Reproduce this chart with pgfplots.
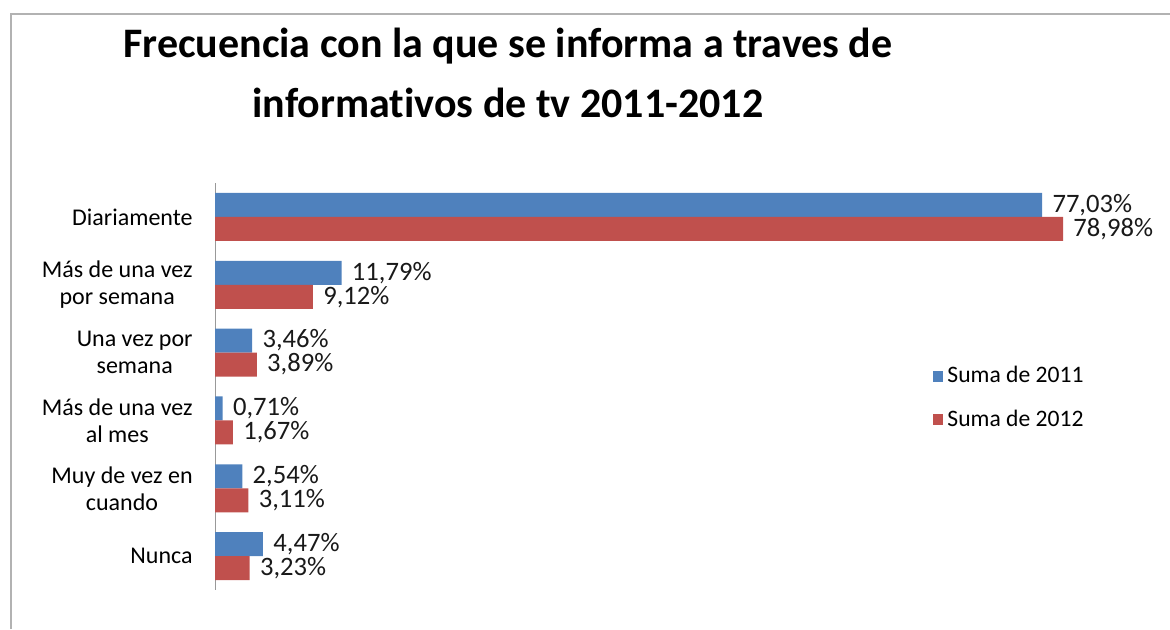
\documentclass[border=0pt]{standalone}
\usepackage{pgfplots}
\pgfplotsset{compat=1.18}
\usepackage{fontspec}
\setmainfont{Carlito}[Ligatures=NoCommon]
\definecolor{b2011}{RGB}{79,129,189}
\definecolor{r2012}{RGB}{192,80,77}
\begin{document}
\begin{tikzpicture}
\path[use as bounding box] (0,0) rectangle (585pt,314.5pt);
\draw[black!30, line width=1pt] (5.5pt,0) -- (5.5pt,307.5pt) -- (585pt,307.5pt);
\node[anchor=base, inner sep=0pt, font=\fontsize{21}{25}\selectfont\bfseries] at (254pt,286pt) {Frecuencia con la que se informa a traves de};
\node[anchor=base, inner sep=0pt, font=\fontsize{21}{25}\selectfont\bfseries] at (254pt,256pt) {informat\kern0pt ivos de tv 2011-2012};
\begin{axis}[
  at={(107.5pt,19.5pt)}, anchor=south west,
  scale only axis, width=429.5pt, height=203.5pt,
  xbar, bar width=12pt,
  xmin=0, xmax=80, ymin=-0.5, ymax=5.5, y dir=reverse,
  hide x axis, axis y line*=left,
  axis line style={black!40},
  major tick length=0pt,
  ytick={0,1,2,3,4,5},
  yticklabels={Diariamente,{Más de una vez\\por semana},{Una vez por\\semana},{Más de una vez\\al mes},{Muy de vez en\\cuando},Nunca},
  yticklabel style={align=center, font=\fontsize{12}{13.5}\selectfont, inner sep=0pt, xshift=-11pt},
  point meta=x,
  /pgf/number format/assume math mode=true,
  nodes near coords={\pgfmathprintnumber[fixed,fixed zerofill,precision=2,use comma,assume math mode=true]{\pgfplotspointmeta}\%},
  every node near coord/.append style={anchor=west, inner sep=0pt, xshift=5pt, font=\fontsize{13.3}{15}\selectfont, text=black!90},
  legend style={draw=none, fill=none, at={(0.835,0.56)}, anchor=north west, font=\fontsize{11.8}{13.5}\selectfont, row sep=8pt, inner sep=0pt},
  legend cell align=left,
  legend image code/.code={\fill[#1,draw=none] (0pt,-2.7pt) rectangle (5.4pt,2.7pt);},
]
\addplot[fill=b2011, draw=none, bar shift=6pt] coordinates {(77.03,0) (11.79,1) (3.46,2) (0.71,3) (2.54,4) (4.47,5)};
\addplot[fill=r2012, draw=none, bar shift=-6pt] coordinates {(78.98,0) (9.12,1) (3.89,2) (1.67,3) (3.11,4) (3.23,5)};
\legend{Suma de 2011, Suma de 2012}
\end{axis}
\end{tikzpicture}
\end{document}
